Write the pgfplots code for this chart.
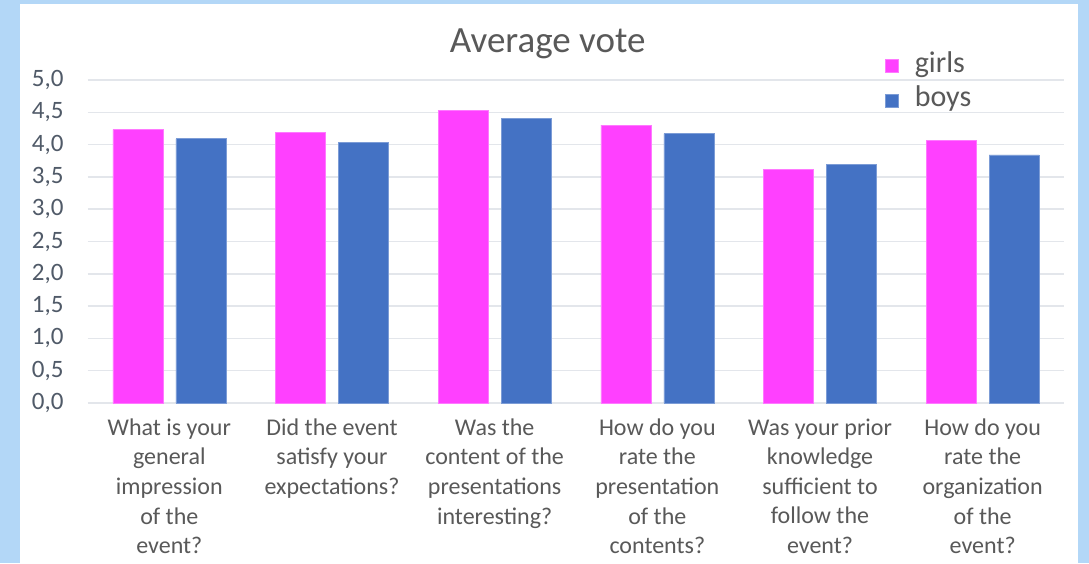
\documentclass[border=0pt]{standalone}
\usepackage{pgfplots}
\pgfplotsset{compat=1.18}
\usepackage{fontspec}
\setmainfont{Carlito}
\definecolor{bgblue}{HTML}{B3D7F7}
\definecolor{girlc}{HTML}{FF40FF}
\definecolor{boyc}{HTML}{4472C4}
\definecolor{gridc}{HTML}{E3E6EB}
\definecolor{txt}{HTML}{595959}
\definecolor{ticktxt}{HTML}{505A68}
\begin{document}
\begin{tikzpicture}[x=1pt,y=1pt]
\fill[bgblue] (0,0) rectangle (1089,563);
\fill[white] (20,0) rectangle (1078,559);
\begin{axis}[
  at={(88pt,160pt)}, anchor=south west,
  scale only axis, width=976pt, height=323pt,
  ybar=13pt, bar width=50pt,
  xmin=-0.5, xmax=5.5, ymin=0, ymax=5,
  ytick={0,0.5,...,5},
  xtick=data,
  xticklabels={{What is your\\general\\impression\\of the\\event?},
               {Did the event\\satisfy your\\expectations?},
               {Was the\\content of the\\presentations\\interesting?},
               {How do you\\rate the\\presentation\\of the\\contents?},
               {Was your prior\\knowledge\\sufficient to\\follow the\\event?},
               {How do you\\rate the\\organization\\of the\\event?}},
  xticklabel style={align=center, text=txt, font=\fontsize{24}{29.6}\selectfont, yshift=-12pt},
  yticklabel style={text=ticktxt, font=\fontsize{25}{28}\selectfont, xshift=-21pt},
  /pgf/number format/.cd, fixed, fixed zerofill, precision=1, use comma, assume math mode=true,
  /pgfplots/.cd,
  major tick length=0pt,
  axis line style={draw=none},
  ymajorgrids, grid style={gridc, line width=1.5pt},
  title={Average vote},
  title style={at={(axis description cs:0.471,1.092)}, anchor=center, text=txt, font=\fontsize{37}{40}\selectfont},
  legend style={at={(axis description cs:0.8166,1.095)}, anchor=north west, draw=none, fill=none,
    font=\fontsize{30}{34}\selectfont, text=txt, row sep=8pt, column sep=14pt, inner sep=0pt},
  legend cell align=left,
  legend image code/.code={\fill[#1] (0pt,-10pt) rectangle (13pt,3pt);},
]
\addplot[fill=girlc, draw=girlc!70!white, line width=0.6pt] coordinates {(0,4.23) (1,4.19) (2,4.53) (3,4.30) (4,3.61) (5,4.06)};
\addplot[fill=boyc, draw=boyc!70!white, line width=0.6pt] coordinates {(0,4.09) (1,4.04) (2,4.40) (3,4.17) (4,3.69) (5,3.84)};
\legend{girls, boys}
\end{axis}
\end{tikzpicture}
\end{document}
